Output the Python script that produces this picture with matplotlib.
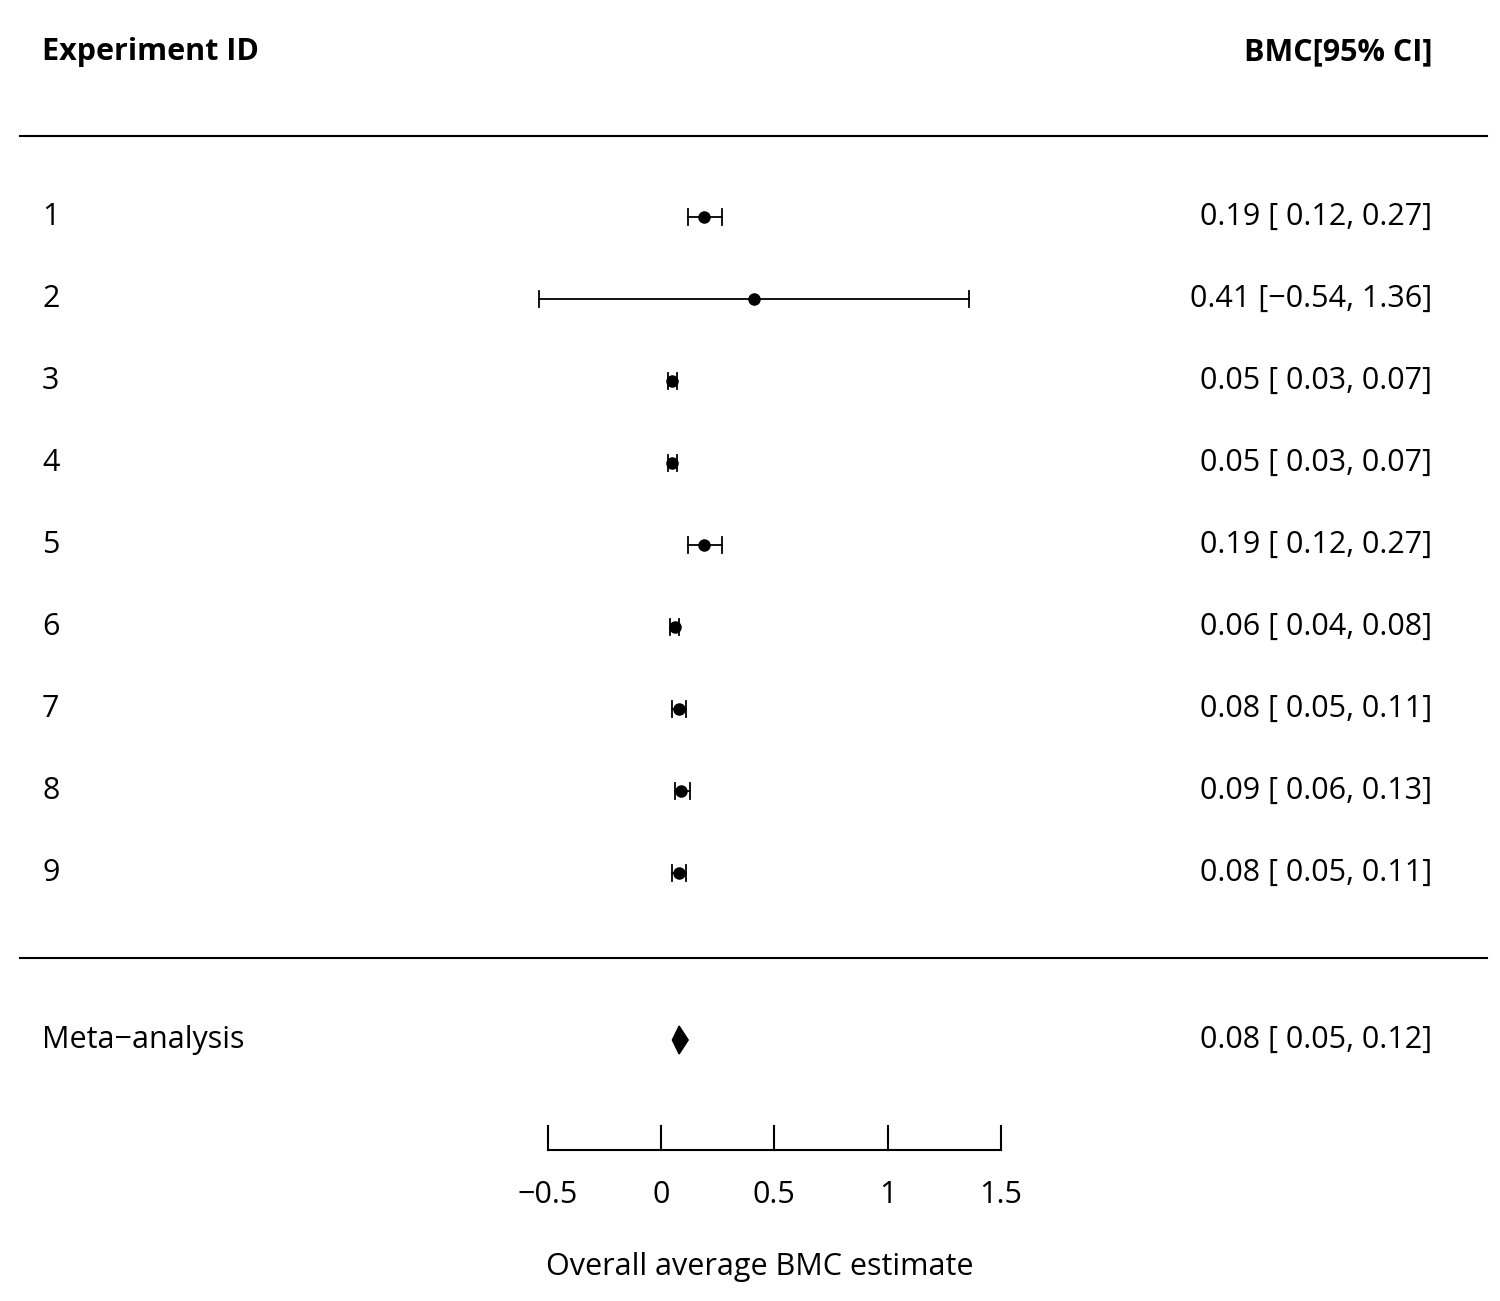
import matplotlib
matplotlib.use('Agg')
import matplotlib.pyplot as plt
import numpy as np

ids = ['1', '2', '3', '4', '5', '6', '7', '8', '9']
est = [0.19, 0.41, 0.05, 0.05, 0.19, 0.06, 0.08, 0.09, 0.08]
lo = [0.12, -0.54, 0.03, 0.03, 0.12, 0.04, 0.05, 0.06, 0.05]
hi = [0.27, 1.36, 0.07, 0.07, 0.27, 0.08, 0.11, 0.13, 0.11]
meta = (0.08, 0.05, 0.12)
ticks = [-0.5, 0, 0.5, 1, 1.5]
tick_labels = ['\u22120.5', '0', '0.5', '1', '1.5']

plt.rcParams['font.family'] = ['Open Sans', 'DejaVu Sans']
FS = 22

fig = plt.figure(figsize=(15, 13.01), dpi=100)
ax = fig.add_axes([0, 0, 1, 1])
# x in data units (px = 661 + 226.5 * v), y in pixel rows from the top
ax.set_xlim(-661 / 226.5, (1500 - 661) / 226.5)
ax.set_ylim(1301, 0)
ax.axis('off')

def px(p):
    return (p - 661) / 226.5

ax.text(px(42), 52, 'Experiment ID', fontsize=FS, fontweight='bold', va='center', ha='left')
ax.text(px(1432), 52, 'BMC[95% CI]', fontsize=FS, fontweight='bold', va='center', ha='right')
for y in (136, 958):
    ax.plot([px(20), px(1487)], [y, y], color='black', lw=1.5)

ys = 217 + 82 * np.arange(len(ids))
for y, name, e, l, h in zip(ys, ids, est, lo, hi):
    ax.text(px(42), y, name, fontsize=FS, va='center', ha='left')
    ax.plot([l, h], [y, y], color='black', lw=1.3)
    for c in (l, h):
        ax.plot([c, c], [y - 8, y + 8], color='black', lw=1.3)
    ax.plot(e, y, 'o', color='black', ms=8)
    ltxt = f'{l:5.2f}'.replace('-', '\u2212')
    ax.text(px(1432), y, f'{e:.2f} [{ltxt}, {h:.2f}]', fontsize=FS, va='center', ha='right')

ym = 1040
m, ml, mh = meta
ax.fill([ml, m, mh, m], [ym, ym - 14, ym, ym + 14], color='black')
ax.text(px(42), ym, 'Meta\u2212analysis', fontsize=FS, va='center', ha='left')
ax.text(px(1432), ym, f'{m:.2f} [ {ml:.2f}, {mh:.2f}]', fontsize=FS, va='center', ha='right')

ya = 1150
ax.plot([ticks[0], ticks[-1]], [ya, ya], color='black', lw=1.5)
for t, lab in zip(ticks, tick_labels):
    ax.plot([t, t], [ya, ya - 24], color='black', lw=1.5)
    ax.text(t, 1195, lab, fontsize=FS, va='center', ha='center')
ax.text(0.5 * (ticks[0] + ticks[-1]) - 0.065, 1267, 'Overall average BMC estimate', fontsize=FS, va='center', ha='center')

fig.savefig('out.png', dpi=100)
